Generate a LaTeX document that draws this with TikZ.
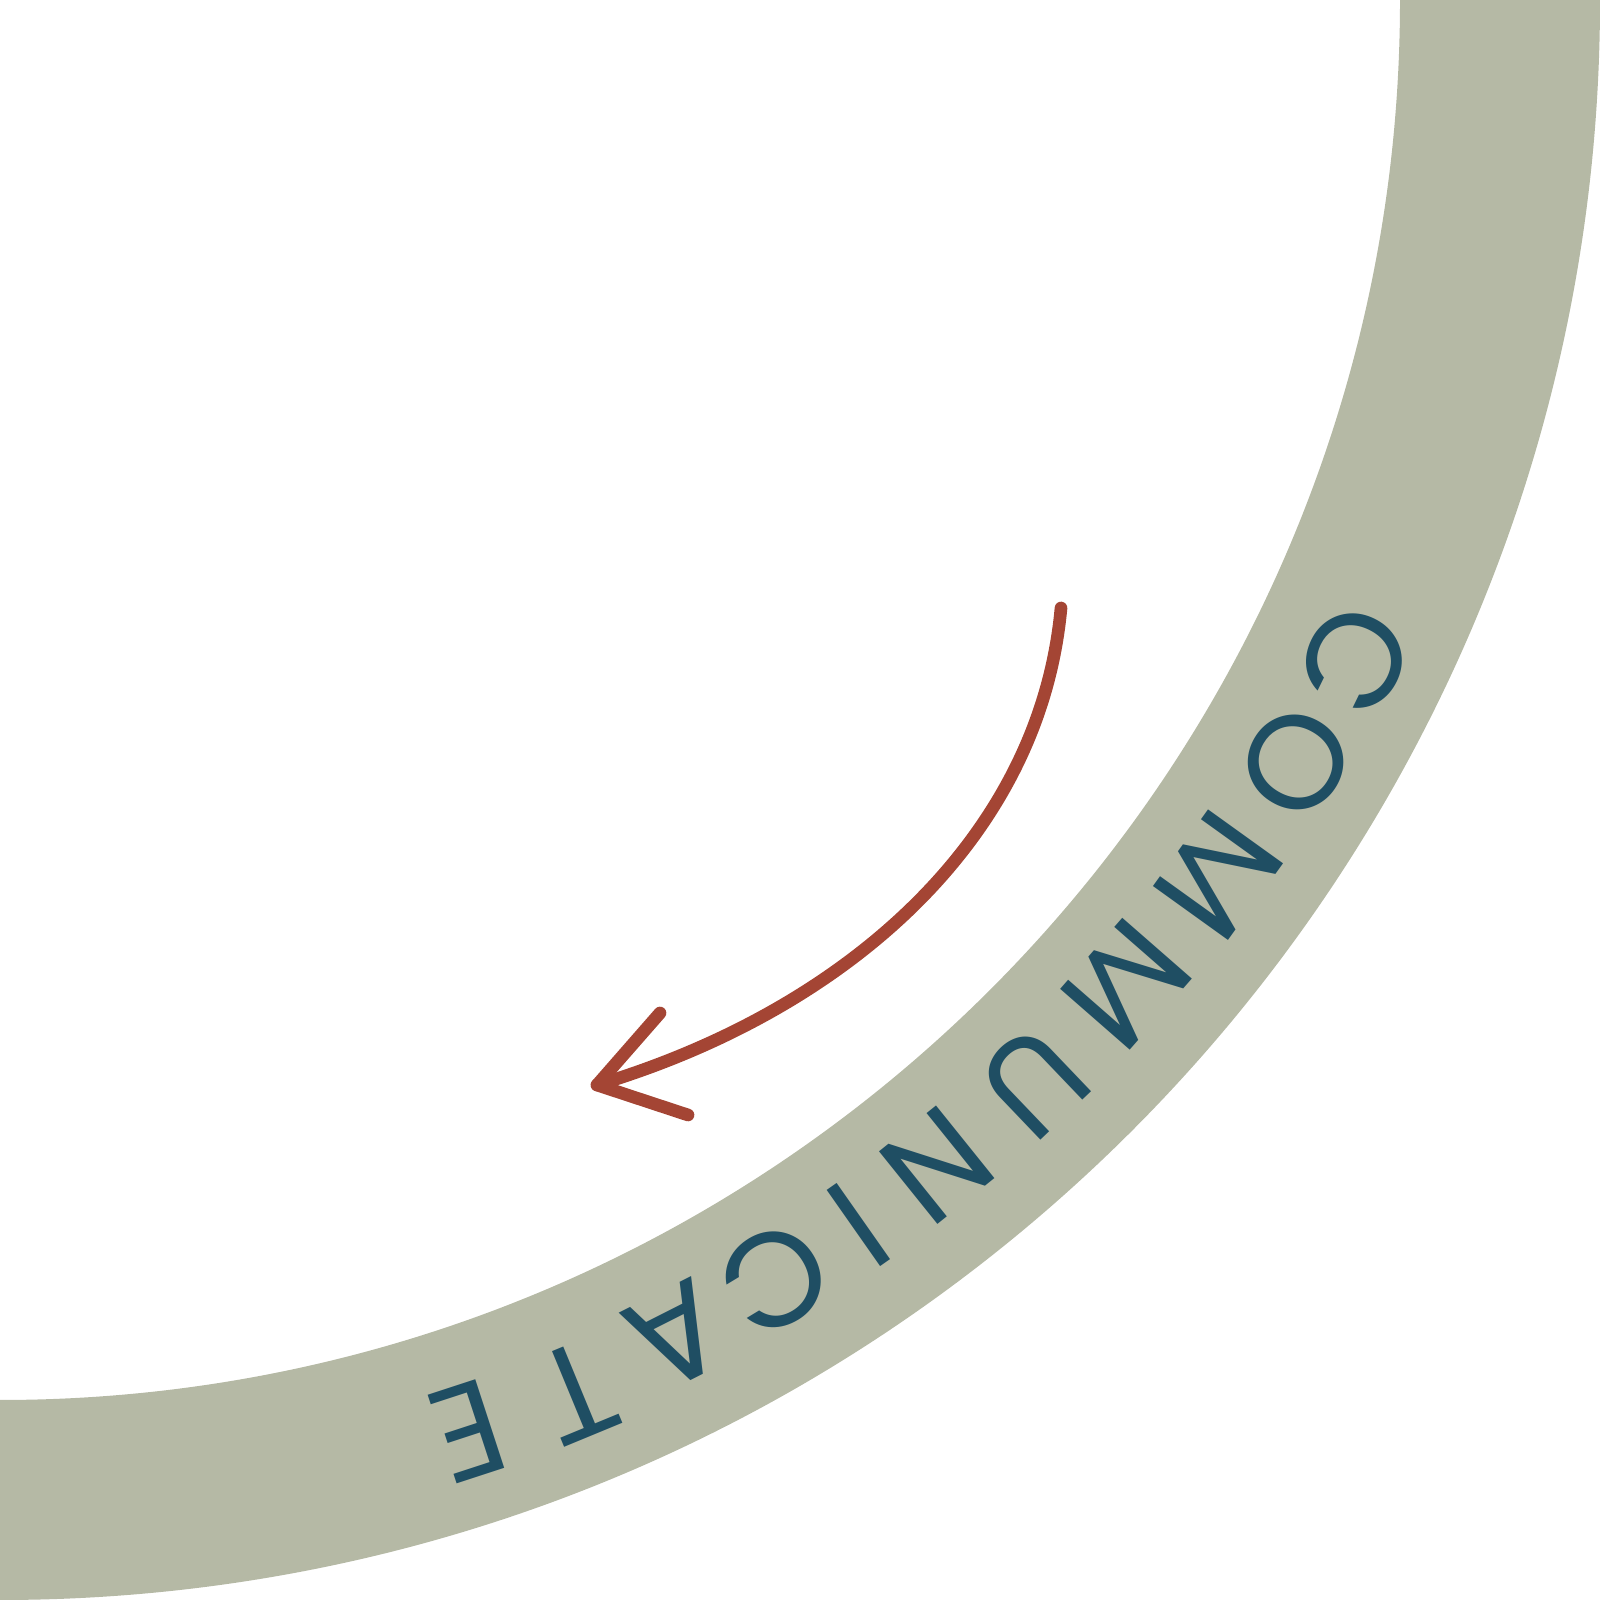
\documentclass[tikz,border=0pt]{standalone}
\usepackage{fontspec}
\setmainfont{Poppins}
\usetikzlibrary{calc}
\definecolor{ringcol}{HTML}{B5B9A5}
\definecolor{textcol}{HTML}{1F4E63}
\definecolor{arrowcol}{HTML}{A44534}
\tikzset{
  letter/.style={text=textcol, inner sep=0pt, anchor=center, font=\fontsize{38}{42}\selectfont},
  arrowline/.style={draw=arrowcol, line width=3.6pt, line cap=round, line join=round}
}
\begin{document}
\begin{tikzpicture}
\useasboundingbox (0,0) rectangle (16,16);
\coordinate (O) at (0,16);
% ring
\fill[ringcol] (16,16) arc[start angle=0, end angle=-90, radius=16] -- (0,2)
  arc[start angle=-90, end angle=0, radius=14] -- cycle;
% letters
\foreach \ch/\ang/\rad [count=\i] in {C/26.0/15.07, O/30.45/15.04, M/35.7/15.0, M/41.15/14.96, U/46.3/14.96, N/51.2/14.95, I/54.95/14.96, C/58.8/14.95, A/63.15/14.98, T/67.55/15.07, E/71.9/15.06}{
  \node[letter, rotate={-\ang-90}] (L\i) at ($(O)+(-\ang:\rad)$) {\ch};
}
% arrow
\coordinate (s) at (10.61,9.92);
\coordinate (tip) at (5.97,5.15);
\coordinate (b1) at (6.60,5.87);
\coordinate (b2) at (6.88,4.85);
\draw[arrowline] (s) .. controls (10.40,7.62) and (8.47,5.90) .. (tip);
\draw[arrowline] (b1) -- (tip) -- (b2);
\end{tikzpicture}
\end{document}
